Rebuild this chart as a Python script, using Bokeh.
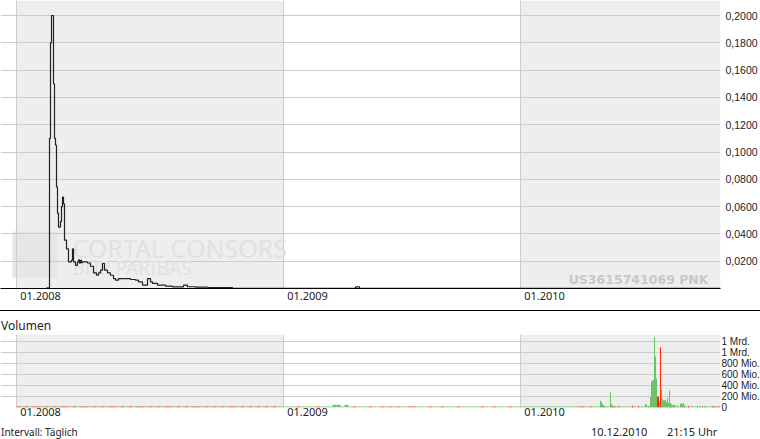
from bokeh.plotting import figure
from bokeh.models import (Range1d, FixedTicker, LinearAxis, Grid, BoxAnnotation,
                          ColumnDataSource, Label, Div)
from bokeh.layouts import column
from bokeh.embed import file_html
from bokeh.resources import INLINE

# ---------------- data ----------------
# x = trading-day index (0 = first trading day of 2008)
year_starts = [0, 267, 504]
year_labels = ["01.2008", "01.2009", "01.2010"]
last_day = 704

price_day = [30, 33, 34, 35, 37, 38, 39, 40, 41, 42, 44, 45, 46, 47, 48, 50, 52,
             55, 56, 57, 59, 61, 62, 63, 64, 65, 66, 71, 74, 77, 80, 82, 84, 86,
             88, 91, 94, 97, 99, 102, 114, 119, 122, 126, 131, 134, 136, 141,
             149, 156, 167, 171, 179, 191, 215, 216, 339, 343, 704]
price_val = [0.0005, 0.110, 0.180, 0.200, 0.150, 0.110, 0.105, 0.0745, 0.055,
             0.045, 0.049, 0.060, 0.067, 0.062, 0.0354, 0.029, 0.0195,
             0.0207, 0.029, 0.0195, 0.017, 0.0195, 0.021, 0.0185, 0.0207,
             0.019, 0.0195, 0.0187, 0.0163, 0.0114, 0.0097, 0.0114, 0.0134,
             0.0183, 0.0134, 0.0114, 0.0097, 0.0073, 0.0061, 0.0073, 0.0066,
             0.0061, 0.0048, 0.0024, 0.0073, 0.0048, 0.0037, 0.0024, 0.0017,
             0.0012, 0.0024, 0.0013, 0.0010, 0.0007, 0.0006, 0.0002, 0.0012,
             0.0002, 0.0002]

price_ticks = [0.02, 0.04, 0.06, 0.08, 0.10, 0.12, 0.14, 0.16, 0.18, 0.20]
price_tick_labels = ["0,0200", "0,0400", "0,0600", "0,0800", "0,1000",
                     "0,1200", "0,1400", "0,1600", "0,1800", "0,2000"]

vol_ticks = [0, 200e6, 400e6, 600e6, 800e6, 1000e6, 1200e6]
vol_tick_labels = ["0", "200 Mio.", "400 Mio.", "600 Mio.", "800 Mio.",
                   "1 Mrd.", "1 Mrd."]

# notable daily volumes (Mio. shares); dir: g = up day, r = down day
vol_day = [562, 574, 584, 585, 586, 587, 588, 590, 594, 595, 596, 597, 602, 603,
           616, 622, 629, 630, 632, 633, 634, 635, 636, 637, 638, 639, 640,
           641, 642, 643, 644, 645, 646, 647, 648, 649, 650, 651, 652, 653,
           654, 655, 656, 657, 658, 659, 661, 664, 665, 666, 667, 668, 672,
           676, 681, 684, 686, 688, 690, 696, 700, 702]
vol_mio = [15, 20, 120, 100, 70, 40, 30, 20, 280, 60, 40, 25, 25, 20,
           30, 25, 60, 55, 25, 25, 190, 470, 490, 500, 1270, 920, 520,
           200, 200, 90, 1090, 325, 160, 130, 140, 130, 100, 170, 80, 310,
           80, 60, 50, 45, 50, 30, 40, 70, 80, 60, 80, 40, 25,
           20, 20, 25, 20, 25, 15, 20, 15, 20]
vol_dir = ["r", "r", "g", "g", "g", "g", "g", "g", "g", "g", "g", "g", "g", "g",
           "r", "r", "g", "g", "g", "g", "g", "g", "g", "g", "g", "g", "g",
           "r", "r", "g", "r", "g", "g", "g", "g", "g", "g", "g", "g", "g",
           "g", "g", "g", "g", "g", "g", "g", "g", "g", "g", "g", "g", "r",
           "g", "r", "g", "r", "g", "g", "r", "g", "r"]

# small background volumes, one char per block of 4 trading days
# g = up, r = down (~18 Mio.), G = larger up block (~50 Mio.)
base_pattern = ("rgrgrrgrgr" "grrgrgrrgr" "grgrrgrgrg" "rrgrgrgrrg"
                "rgrgrrgrgr" "grgrrgrgrg" "rgrgrgg"
                "gggrggggrg" "ggGGgGgrgg" "grggrgrgrg" "grrgggrggr"
                "gggrgggggr" "ggrgggrgg"
                "gggggggggg" "gggggrgggg" "gggrgggggg" "gggggggrgg"
                "ggggggggrg")
base_level_mio = {"g": 18, "r": 18, "G": 50}

footer_left = "Intervall: Täglich"
footer_date = "10.12.2010"
footer_time = "21:15 Uhr"

GREEN = "#6cc36c"
RED = "#ff2a00"
BAND = "#eeeeee"
GRID = "#cccccc"
TXT = "#222222"
label_shift = 24  # year labels sit just right of their year line

NO_TICKS = dict(major_tick_line_color=None, minor_tick_line_color=None,
                major_tick_out=0, major_tick_in=0, minor_tick_out=0,
                minor_tick_in=0)

# ---------------- price panel ----------------
p1 = figure(frame_width=720, frame_height=288, x_range=Range1d(-16, last_day),
            y_range=Range1d(0, 0.211), output_backend="svg",
            toolbar_location=None, x_axis_type=None, y_axis_type=None,
            min_border_left=0, min_border_right=40, min_border_top=0,
            min_border_bottom=22, outline_line_color=None,
            background_fill_color="white", border_fill_color="white")

for lo, hi in [(year_starts[0], year_starts[1]), (year_starts[2], None)]:
    p1.add_layout(BoxAnnotation(left=lo, right=hi, fill_color=BAND, fill_alpha=1,
                                line_color=None, level="image"))
# faint logo square of the watermark
p1.add_layout(BoxAnnotation(left=12, right=57, bottom=11, top=57,
                            left_units="screen", right_units="screen",
                            bottom_units="screen", top_units="screen",
                            fill_color="#e6e6e6", fill_alpha=1, line_color=None,
                            level="image"))

p1.add_layout(Grid(dimension=0, ticker=FixedTicker(ticks=year_starts),
                   grid_line_color=GRID, grid_line_width=1))
p1.add_layout(Grid(dimension=1, ticker=FixedTicker(ticks=price_ticks),
                   grid_line_color=GRID, grid_line_width=1))

p1.add_layout(Label(x=72, y=41, x_units="screen", y_units="screen",
                    text="CORTAL CONSORS", text_font="Noto Sans",
                    text_font_size="25px", text_color="#e1e1e1",
                    text_baseline="middle", level="underlay"))
p1.add_layout(Label(x=72, y=21, x_units="screen", y_units="screen",
                    text="BNP PARIBAS", text_font="Noto Sans",
                    text_font_size="19px", text_color="#e1e1e1",
                    text_baseline="middle", level="underlay"))
p1.add_layout(Label(x=708, y=9, x_units="screen", y_units="screen",
                    text="US3615741069 PNK", text_font="DejaVu Sans",
                    text_font_style="bold", text_font_size="12.5px",
                    text_color="#c8c8c8", text_align="right",
                    text_baseline="middle"))

p1.step(x=price_day, y=price_val, mode="after", line_color="#222222", line_width=1.2)

lab_pos = [s + label_shift for s in year_starts]
xax1 = LinearAxis(ticker=FixedTicker(ticks=lab_pos),
                  major_label_overrides=dict(zip(lab_pos, year_labels)),
                  axis_line_color="black", axis_line_width=1,
                  major_label_standoff=3, major_label_text_font="Noto Sans",
                  major_label_text_font_size="11px", major_label_text_color=TXT,
                  **NO_TICKS)
p1.add_layout(xax1, "below")

yax1 = LinearAxis(ticker=FixedTicker(ticks=price_ticks),
                  major_label_overrides=dict(zip(price_ticks, price_tick_labels)),
                  axis_line_color=None, major_label_standoff=5,
                  major_label_text_font="Liberation Sans",
                  major_label_text_font_size="10.5px",
                  major_label_text_color=TXT, **NO_TICKS)
p1.add_layout(yax1, "right")

# ---------------- separator + "Volumen" ----------------
sep = Div(text="", width=760, height=1, margin=(0, 0, 0, 0),
          styles={"background-color": "#000000"})
vol_title = Div(text='<div style="position:relative;height:23px;">'
                     '<span style="position:absolute;left:1px;top:7px;'
                     'font-family:\'Noto Sans\';font-size:12px;color:#222;'
                     'line-height:16px;white-space:nowrap;">Volumen</span></div>',
                width=760, height=23, margin=(0, 0, 0, 0))

# ---------------- volume panel ----------------
p2 = figure(frame_width=720, frame_height=73, x_range=Range1d(-16, last_day),
            y_range=Range1d(0, 1.32e9), output_backend="svg",
            toolbar_location=None, x_axis_type=None, y_axis_type=None,
            min_border_left=0, min_border_right=40, min_border_top=0,
            min_border_bottom=13, outline_line_color=None,
            background_fill_color="white", border_fill_color="white")

for lo, hi in [(year_starts[0], year_starts[1]), (year_starts[2], None)]:
    p2.add_layout(BoxAnnotation(left=lo, right=hi, fill_color=BAND, fill_alpha=1,
                                line_color=None, level="image"))
p2.add_layout(Grid(dimension=0, ticker=FixedTicker(ticks=year_starts),
                   grid_line_color=GRID, grid_line_width=1))
p2.add_layout(Grid(dimension=1, ticker=FixedTicker(ticks=vol_ticks[1:]),
                   grid_line_color=GRID, grid_line_width=1))

base_src = ColumnDataSource(dict(
    x=[4 * i + 2 for i in range(len(base_pattern))],
    top=[base_level_mio[c] * 1e6 for c in base_pattern],
    color=[RED if c == "r" else GREEN for c in base_pattern]))
p2.vbar(x="x", top="top", width=4, source=base_src, fill_color="color",
        line_color=None)

vol_src = ColumnDataSource(dict(
    x=vol_day, top=[v * 1e6 for v in vol_mio],
    color=[RED if d == "r" else GREEN for d in vol_dir]))
p2.vbar(x="x", top="top", width=1, source=vol_src, fill_color="color",
        line_color=None)

xax2 = LinearAxis(ticker=FixedTicker(ticks=lab_pos),
                  major_label_overrides=dict(zip(lab_pos, year_labels)),
                  axis_line_color=None, major_label_standoff=0,
                  major_label_text_font="Noto Sans",
                  major_label_text_font_size="11px", major_label_text_color=TXT,
                  **NO_TICKS)
p2.add_layout(xax2, "below")

yax2 = LinearAxis(ticker=FixedTicker(ticks=vol_ticks),
                  major_label_overrides=dict(zip(vol_ticks, vol_tick_labels)),
                  axis_line_color=None, major_label_standoff=1,
                  major_label_text_font="Liberation Sans",
                  major_label_text_font_size="10px",
                  major_label_text_color=TXT, **NO_TICKS)
p2.add_layout(yax2, "right")

# ---------------- footer ----------------
footer = Div(text=('<div style="position:relative;height:19px;'
                   'font-family:\'Noto Sans\';color:#222;white-space:nowrap;">'
                   '<span style="position:absolute;left:1px;top:5px;font-size:10px;'
                   'line-height:14px;">%s</span>'
                   '<span style="position:absolute;left:591px;top:4px;font-size:11px;'
                   'line-height:15px;">%s</span>'
                   '<span style="position:absolute;left:667px;top:4px;font-size:11px;'
                   'line-height:15px;">%s</span></div>')
             % (footer_left, footer_date, footer_time),
             width=760, height=19, margin=(0, 0, 0, 0))

layout = column(p1, sep, vol_title, p2, footer, spacing=0)
open("out.html", "w").write(file_html(layout, INLINE))
